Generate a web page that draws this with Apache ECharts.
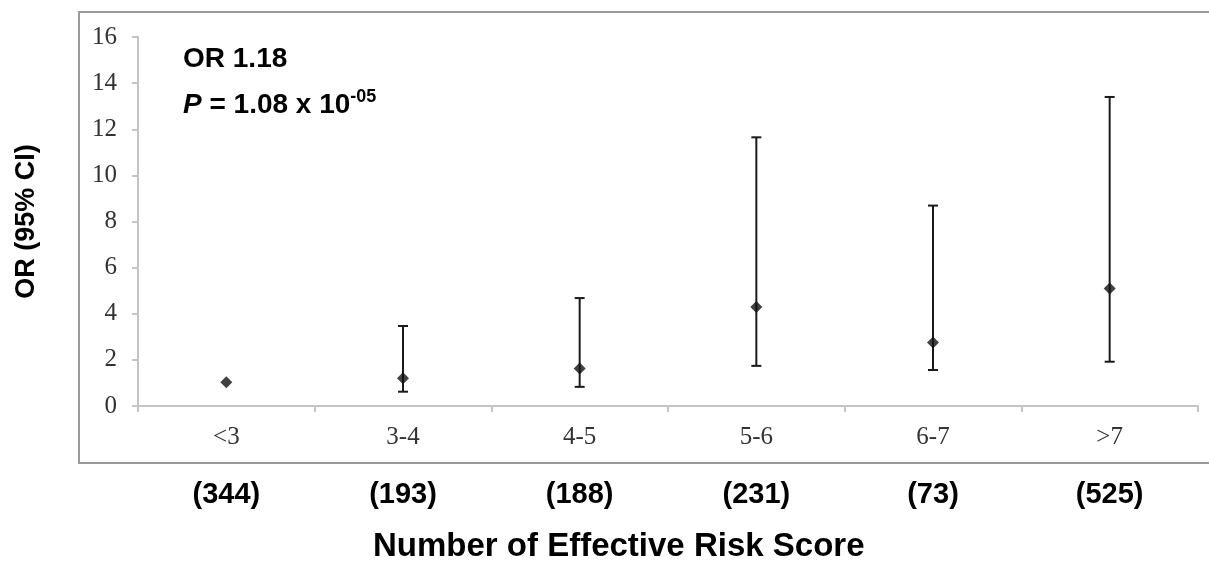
<!DOCTYPE html>
<html>
<head>
<meta charset="utf-8">
<script src="https://cdn.jsdelivr.net/npm/echarts@6/dist/echarts.min.js"></script>
<style>
  html, body { margin: 0; padding: 0; background: #fff; }
  #chart { width: 1209px; height: 568px; }
</style>
</head>
<body>
<div id="chart"></div>
<script>
// 数据
const categories = ['<3', '3-4', '4-5', '5-6', '6-7', '>7'];
const countLabels = ['(344)', '(193)', '(188)', '(231)', '(73)', '(525)'];
const orValues = [1.03, 1.2, 1.63, 4.29, 2.75, 5.1];
const ciLower = [1.03, 0.62, 0.83, 1.74, 1.56, 1.92];
const ciUpper = [1.03, 3.47, 4.68, 11.65, 8.69, 13.4];
const yTicks = { min: 0, max: 16, interval: 2 };

const serif = '"Liberation Serif", "DejaVu Serif", serif';
const sans = '"Liberation Sans", Arial, sans-serif';
const axisGray = '#c4c4c4';

const chart = echarts.init(document.getElementById('chart'));

// 误差线数据 [index, lower, upper]，只画有区间的
const errorData = categories
  .map((c, i) => [i, ciLower[i], ciUpper[i]])
  .filter(d => d[2] > d[1]);

const renderErrorBar = (params, api) => {
  const x = api.value(0);
  const lo = api.coord([x, api.value(1)]);
  const hi = api.coord([x, api.value(2)]);
  const cap = 5;
  const style = { stroke: '#1a1a1a', lineWidth: 2 };
  return {
    type: 'group',
    children: [
      { type: 'line', shape: { x1: hi[0], y1: hi[1], x2: lo[0], y2: lo[1] }, style },
      { type: 'line', shape: { x1: hi[0] - cap, y1: hi[1], x2: hi[0] + cap, y2: hi[1] }, style },
      { type: 'line', shape: { x1: lo[0] - cap, y1: lo[1], x2: lo[0] + cap, y2: lo[1] }, style }
    ]
  };
};

const option = {
  animation: false,
  backgroundColor: '#fff',
  title: {
    text: 'Number of Effective Risk Score',
    left: 373,
    top: 530,
    padding: 0,
    textStyle: { fontFamily: sans, fontWeight: 'bold', fontSize: 33, color: '#000' }
  },
  graphic: [
    {
      type: 'rect',
      shape: { x: 79, y: 12, width: 1140, height: 451 },
      style: { fill: 'none', stroke: '#9a9a9a', lineWidth: 2 },
      silent: true
    },
    {
      type: 'text',
      left: 183,
      top: 45,
      style: { text: 'OR 1.18', font: 'bold 28px ' + sans, fill: '#000' }
    },
    {
      type: 'text',
      left: 183,
      top: 88,
      style: {
        text: '{i|P} = 1.08 x 10{s|-05}',
        font: 'bold 28px ' + sans,
        fill: '#000',
        rich: {
          i: { fontStyle: 'italic', fontWeight: 'bold', fontSize: 28, fontFamily: sans },
          s: { fontSize: 18, fontWeight: 'bold', fontFamily: sans, verticalAlign: 'top', padding: [0, 0, 16, 0] }
        }
      }
    }
  ],
  grid: { left: 138, right: 11, top: 37, bottom: 162 },
  xAxis: [
    {
      type: 'category',
      data: categories,
      boundaryGap: true,
      axisLine: { show: true, lineStyle: { color: axisGray, width: 2 } },
      axisTick: { show: true, interval: 0, length: 6, lineStyle: { color: axisGray, width: 2 } },
      axisLabel: { margin: 19, fontFamily: serif, fontSize: 25, color: '#333', interval: 0 },
      splitLine: { show: false }
    },
    {
      type: 'category',
      data: countLabels,
      position: 'bottom',
      boundaryGap: true,
      axisLine: { show: false },
      axisTick: { show: false },
      axisLabel: { margin: 74, fontFamily: sans, fontWeight: 'bold', fontSize: 29, color: '#000', interval: 0 },
      splitLine: { show: false }
    }
  ],
  yAxis: {
    type: 'value',
    min: yTicks.min,
    max: yTicks.max,
    interval: yTicks.interval,
    name: 'OR (95% CI)',
    nameLocation: 'middle',
    nameGap: 98,
    nameRotate: 90,
    nameTextStyle: { fontFamily: sans, fontWeight: 'bold', fontSize: 27, color: '#000' },
    axisLine: { show: true, lineStyle: { color: axisGray, width: 2 } },
    axisTick: { show: true, length: 6, lineStyle: { color: axisGray, width: 2 } },
    axisLabel: { margin: 21, fontFamily: serif, fontSize: 25, color: '#333' },
    splitLine: { show: false }
  },
  series: [
    {
      type: 'custom',
      renderItem: renderErrorBar,
      data: errorData,
      encode: { x: 0, y: [1, 2] },
      z: 2
    },
    {
      type: 'scatter',
      data: orValues.map((v, i) => [i, v]),
      symbol: 'diamond',
      symbolSize: 12,
      itemStyle: { color: '#111' },
      z: 3
    }
  ]
};

chart.setOption(option);
window.addEventListener('resize', () => chart.resize());
</script>
</body>
</html>
